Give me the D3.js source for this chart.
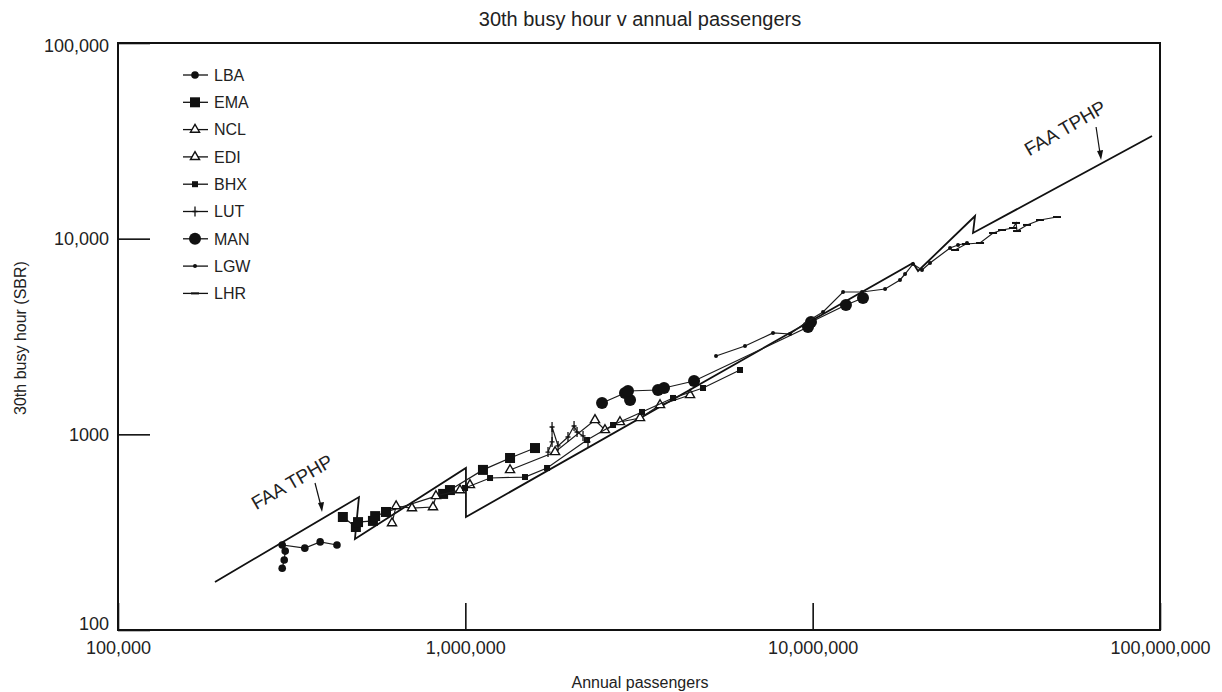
<!DOCTYPE html>
<html lang="en">
<head>
<meta charset="UTF-8" />
<title>30th busy hour v annual passengers</title>
<script src="https://d3js.org/d3.v7.min.js"></script>
<style>
  body { margin: 0; background: #fff; }
  svg { display: block; font-family: "Liberation Sans", Arial, Helvetica, sans-serif; }
  .frame { fill: none; stroke: #111; stroke-width: 2px; }
  .axis line { stroke: #111; stroke-width: 1.6px; }
  .axis text { fill: #222; font-size: 18px; font-family: "Liberation Sans", Arial, sans-serif; }
  path.series { fill: none; stroke: #1c1c1c; stroke-width: 1.2px; }
  path.faa { fill: none; stroke: #111; stroke-width: 1.8px; stroke-linejoin: miter; }
  .label { fill: #222; }
</style>
</head>
<body>
<script>
// ---- dati (passeggeri annui, 30a ora di punta) ----
const airports = ["LBA", "EMA", "NCL", "EDI", "BHX", "LUT", "MAN", "LGW", "LHR"];

const lbaPax  = [297000, 301000, 303000, 297000, 345000, 382000, 427000];
const lbaBusy = [207, 228, 253, 272, 262, 282, 272];

const emaPax  = [444000, 484000, 491000, 542000, 550000, 591000, 863000, 903000, 1124000, 1345000, 1587000];
const emaBusy = [378, 336, 356, 361, 382, 401, 496, 519, 658, 757, 851];

const nclPax  = [615000, 632000, 702000, 807000, 823000, 965000, 1031000];
const nclBusy = [352, 430, 420, 425, 484, 519, 551];

const ediPax  = [1345000, 1813000, 2362000, 2524000, 2788000, 3184000, 3636000, 4436000];
const ediBusy = [657, 812, 1184, 1052, 1156, 1212, 1412, 1589];

const bhxPax  = [998000, 1178000, 1485000, 1719000, 2240000, 2662000, 3226000, 3962000, 4834000, 6177000];
const bhxBusy = [532, 598, 605, 673, 935, 1116, 1301, 1534, 1725, 2132];

const lutPax  = [1730000, 1777000, 1777000, 1849000, 1975000, 2056000, 2097000, 2182000, 2255000];
const lutBusy = [812, 914, 1090, 872, 969, 1103, 1028, 981, 914];

const manPax  = [2475000, 2882000, 2980000, 2940000, 3587000, 3733000, 4555000, 9696000, 9890000, 12470000, 13960000];
const manBusy = [1446, 1627, 1498, 1666, 1685, 1725, 1873, 3536, 3751, 4581, 4975];

const lgwPax  = [5269000, 6385000, 7688000, 8605000, 9696000, 10710000, 12230000, 13870000, 16160000,
                 17840000, 18450000, 19450000, 20640000, 21770000, 24860000, 26210000, 27820000];
const lgwBusy = [2514, 2828, 3296, 3257, 3795, 4220, 5339, 5339, 5531, 6150, 6598, 7423, 6918, 7510, 8961, 9281, 9502];

const lhrPax  = [25700000, 27630000, 30330000, 33060000, 35090000, 37740000, 38500000, 38760000, 41410000, 45130000, 50510000];
const lhrBusy = [8752, 9391, 9502, 10690, 11070, 11340, 12030, 10940, 11750, 12460, 12900];

// linea FAA TPHP (a dente di sega)
const faaPax  = [190200, 494000, 481000, 1004000, 1004000, 19450000, 20110000, 29340000, 28950000, 94840000];
const faaBusy = [176, 478, 292, 673, 378, 7510, 6835, 13060, 10690, 33470];

const xTicks = [1e5, 1e6, 1e7, 1e8];
const xTickLabels = ["100,000", "1,000,000", "10,000,000", "100,000,000"];
const yTicks = [100, 1000, 10000, 100000];
const yTickLabels = ["100", "1000", "10,000", "100,000"];

// punte delle frecce "FAA TPHP" (sulla linea)
const arrowPax  = [386700, 67660000];
const arrowBusy = [401, 25230];

const seriesPax  = [lbaPax, emaPax, nclPax, ediPax, bhxPax, lutPax, manPax, lgwPax, lhrPax];
const seriesBusy = [lbaBusy, emaBusy, nclBusy, ediBusy, bhxBusy, lutBusy, manBusy, lgwBusy, lhrBusy];

// marker per aeroporto
const markerOf = {
  LBA: "dot", EMA: "bigSquare", NCL: "triangle", EDI: "triangle", BHX: "square",
  LUT: "plus", MAN: "bigDot", LGW: "smallDot", LHR: "dash"
};

const width = 1222, height = 692;

const svg = d3.select("body").append("svg")
  .attr("width", width)
  .attr("height", height);

const x = d3.scaleLog().domain([1e5, 1e8]).range([118, 1160]);
const y = d3.scaleLog().domain([100, 1e5]).range([630, 43]);

// titolo
svg.append("text")
  .attr("class", "label")
  .attr("x", 640).attr("y", 26)
  .attr("text-anchor", "middle")
  .style("font-size", "20px")
  .text("30th busy hour v annual passengers");

// assi
const yAxis = svg.append("g")
  .attr("class", "axis")
  .attr("transform", "translate(118,0)")
  .call(d3.axisLeft(y).tickValues(yTicks).tickFormat((d, i) => yTickLabels[i]).tickSize(-32).tickPadding(9));
yAxis.select(".domain").remove();
// "100" un po' più in alto, come nell'originale
yAxis.selectAll(".tick text").filter(d => d === 100).attr("dy", "-0.05em");
yAxis.selectAll(".tick text").filter(d => d === 100000).attr("dy", "0.45em");

const xAxis = svg.append("g")
  .attr("class", "axis")
  .attr("transform", "translate(0,630)")
  .call(d3.axisBottom(x).tickValues(xTicks).tickFormat((d, i) => xTickLabels[i]).tickSize(-27).tickPadding(11));
xAxis.select(".domain").remove();
xAxis.selectAll("text").attr("fill", "#222");

svg.append("rect")
  .attr("class", "frame")
  .attr("x", x.range()[0]).attr("y", y.range()[1])
  .attr("width", x.range()[1] - x.range()[0])
  .attr("height", y.range()[0] - y.range()[1]);

svg.append("text")
  .attr("class", "label")
  .attr("x", 640).attr("y", 688)
  .attr("text-anchor", "middle")
  .style("font-size", "16px")
  .text("Annual passengers");

svg.append("text")
  .attr("class", "label")
  .attr("transform", "translate(26,338) rotate(-90)")
  .attr("text-anchor", "middle")
  .style("font-size", "16px")
  .text("30th busy hour (SBR)");

// FAA TPHP
const faa = faaPax.map((p, i) => ({ pax: p, busy: faaBusy[i] }));
const line = d3.line().x(d => x(d.pax)).y(d => y(d.busy));

svg.append("path")
  .attr("class", "faa")
  .attr("d", line(faa));

// marker
function drawMarker(g, type) {
  if (type === "dot") {
    g.append("circle").attr("r", 3.8).attr("fill", "#111");
  } else if (type === "bigDot") {
    g.append("circle").attr("r", 6).attr("fill", "#111");
  } else if (type === "smallDot") {
    g.append("circle").attr("r", 2).attr("fill", "#111");
  } else if (type === "bigSquare") {
    g.append("rect").attr("x", -5).attr("y", -5).attr("width", 10).attr("height", 10).attr("fill", "#111");
  } else if (type === "square") {
    g.append("rect").attr("x", -3).attr("y", -3).attr("width", 6).attr("height", 6).attr("fill", "#111");
  } else if (type === "triangle") {
    g.append("path").attr("d", d3.symbol(d3.symbolTriangle, 36)())
      .attr("fill", "#fff").attr("stroke", "#111").attr("stroke-width", 1.4);
  } else if (type === "plus") {
    g.append("path").attr("d", "M0,-5V5M-2.5,0H2.5")
      .attr("stroke", "#111").attr("stroke-width", 1.3);
  } else if (type === "dash") {
    g.append("path").attr("d", "M-4,0H4")
      .attr("stroke", "#111").attr("stroke-width", 2);
  }
}

// serie
airports.forEach((code, s) => {
  const pts = seriesPax[s].map((p, i) => ({ pax: p, busy: seriesBusy[s][i] }));
  const g = svg.append("g").attr("class", "airport-" + code);

  g.append("path")
    .attr("class", "series")
    .attr("d", line(pts));

  g.selectAll("g.pt")
    .data(pts)
    .enter()
    .append("g")
    .attr("class", "pt")
    .attr("transform", d => `translate(${x(d.pax)},${y(d.busy)})`)
    .each(function() { drawMarker(d3.select(this), markerOf[code]); });
});

// annotazioni FAA TPHP
const annotations = [
  { dx: -30, dy: -30, ax: -7, ay: -29 },
  { dx: -36, dy: -32, ax: -5, ay: -33 }
];
annotations.forEach((a, i) => {
  const tx = x(arrowPax[i]), ty = y(arrowBusy[i]);
  svg.append("text")
    .attr("class", "label")
    .attr("transform", `translate(${tx + a.dx},${ty + a.dy}) rotate(-30)`)
    .attr("text-anchor", "middle")
    .attr("dy", "0.35em")
    .style("font-size", "19px")
    .text("FAA TPHP");
  svg.append("line")
    .attr("x1", tx + a.ax).attr("y1", ty + a.ay)
    .attr("x2", tx - 0.8).attr("y2", ty - 5)
    .attr("stroke", "#111").attr("stroke-width", 1.2);
  svg.append("path")
    .attr("d", `M${tx},${ty}L${tx - 4},${ty - 9}L${tx + 2},${ty - 10}Z`)
    .attr("fill", "#111");
});

// legenda
const legend = svg.append("g").attr("transform", "translate(183,75)");
airports.forEach((code, i) => {
  const row = legend.append("g").attr("transform", `translate(0,${i * 27.3})`);
  row.append("line")
    .attr("x1", 0).attr("x2", 25)
    .attr("stroke", "#111").attr("stroke-width", 1.3);
  drawMarker(row.append("g").attr("transform", "translate(12,0)"), markerOf[code]);
  row.append("text")
    .attr("class", "label")
    .attr("x", 31)
    .attr("dy", "0.36em")
    .style("font-size", "16px")
    .text(code);
});
</script>
</body>
</html>
